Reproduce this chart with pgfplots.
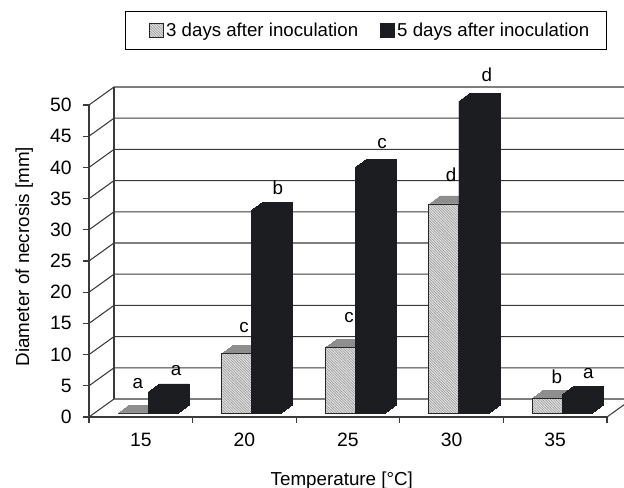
\documentclass[border=0pt]{standalone}
\usepackage{fontspec}
\setmainfont{Liberation Sans}
\usepackage{pgfplots}
\usepackage{pgfplotstable}
\pgfplotsset{compat=1.18}
\usetikzlibrary{patterns.meta}

\definecolor{barblack}{HTML}{1C1D20}
\definecolor{barlight}{HTML}{E2E2E2}
\definecolor{bartop}{HTML}{8E8E8E}
\definecolor{wall}{HTML}{3A3A3A}

\pgfplotstableread{
temp  d3    d5
15    0.0   3.4
20    9.5   32.5
25    10.5  39.4
30    33.5  50.0
35    2.4   3.0
}\necrosis

\pgfplotsset{
    boxlegend/.style={legend image code/.code={\draw[##1] (0pt,-5pt) rectangle (10pt,5pt);}},
    boxlegendfirst/.style={legend image code/.code={\path (-7pt,0pt); \draw[##1] (0pt,-5pt) rectangle (10pt,5pt);}},
    light face/.style={draw=black!85, line width=0.6pt, fill=barlight,
        postaction={pattern={Lines[angle=-45,distance=1.4pt,line width=0.5pt]}, pattern color=black!38}},
    bar3d/.style={ybar, bar width=1.45, forget plot},
}
\newcommand{\fs}{\fontsize{14.1}{16}\selectfont}

\begin{document}
\begin{tikzpicture}
    % page is 624x488 px at 0.75pt per px, axis corner sits at px (89,417)
    \path[use as bounding box] (-66.75pt,-53.25pt) rectangle (401.25pt,312.75pt);
    \begin{axis}[
        at={(0pt,0pt)},
        anchor=origin,
        scale only axis,
        width=388.5pt,
        height=234pt,
        xmin=12.5, xmax=37.5,
        ymin=0, ymax=50,
        clip=false,
        axis x line*=bottom,
        axis y line*=left,
        axis line style={wall, line width=0.8pt, -},
        xtick={15,20,...,35},
        minor xtick={12.5,17.5,...,37.5},
        ytick={0,5,...,50},
        tick align=outside,
        major tick length=4.5pt,
        minor tick length=4.5pt,
        major x tick style={draw=none},
        minor x tick style={wall, line width=0.8pt},
        y tick style={wall, line width=0.8pt},
        tick label style={font=\fontsize{14.5}{16}\selectfont, /pgf/number format/assume math mode=true},
        xticklabel style={yshift=-4pt},
        yticklabel style={xshift=-5pt},
        xlabel={Temperature [°C]},
        ylabel={Diameter of necrosis [mm]},
        label style={font=\fs},
        xlabel style={at={(axis description cs:0.488,-0.204)}, anchor=center},
        ylabel style={at={(axis description cs:-0.125,0.514)}, anchor=center},
        legend columns=2,
        legend cell align=left,
        legend style={
            at={(axis description cs:0.5347,1.2388)},
            anchor=center,
            font=\fontsize{14}{16}\selectfont,
            draw=black,
            line width=0.8pt,
            inner xsep=11pt,
            inner ysep=6.6pt,
            /tikz/every even column/.append style={column sep=14.5pt},
        },
    ]
        % walls of the box
        \draw[wall, line width=0.8pt] (axis cs:13.707,2.885) -- (axis cs:13.707,52.885);
        \draw[wall, line width=0.8pt] (axis cs:37.5,0) -- (axis cs:38.32,1.96);
        \pgfplotsinvokeforeach{0,5,...,50}{
            \draw[wall, line width=0.8pt] (axis cs:12.5,#1) -- ++(18.75pt,13.5pt) -- ++(382.5pt,0pt);
        }

        % 3 days: depth of the bar first, then the front face
        \pgfplotsinvokeforeach{11,10,...,0}{
            \addplot[bar3d, bar shift=-0.375, draw=bartop, fill=bartop, line width=0.4pt,
                xshift={#1*0.75pt}, yshift={3pt+#1*0.545pt}]
                table[x=temp, y=d3] {\necrosis};
        }
        \addplot[bar3d, bar shift=-0.375, light face, yshift=3pt]
            table[x=temp, y=d3] {\necrosis};

        % 5 days
        \pgfplotsinvokeforeach{11,10,...,0}{
            \addplot[bar3d, bar shift=1.075, draw=barblack, fill=barblack, line width=0.4pt,
                xshift={#1*0.75pt}, yshift={3pt+#1*0.545pt}]
                table[x=temp, y=d5] {\necrosis};
        }
        \addplot[bar3d, bar shift=1.075, draw=barblack, fill=barblack, line width=0.4pt, yshift=3pt]
            table[x=temp, y=d5] {\necrosis};

        \addlegendimage{boxlegendfirst, light face}
        \addlegendentry{3 days after inoculation}
        \addlegendimage{boxlegend, draw=barblack, fill=barblack}
        \addlegendentry{5 days after inoculation}

        % significance letters
        \begin{scope}[every node/.style={font=\fs, inner sep=0pt}]
            \node at (axis cs:14.86,5.3) {a};
            \node at (axis cs:16.7,7.4) {a};
            \node at (axis cs:19.98,14.4) {c};
            \node at (axis cs:21.62,36.7) {b};
            \node at (axis cs:25.05,16) {c};
            \node at (axis cs:26.64,43.9) {c};
            \node at (axis cs:29.97,38.8) {d};
            \node at (axis cs:31.7,54.8) {d};
            \node at (axis cs:35.08,6.4) {b};
            \node at (axis cs:36.6,6.9) {a};
        \end{scope}
    \end{axis}
\end{tikzpicture}
\end{document}
